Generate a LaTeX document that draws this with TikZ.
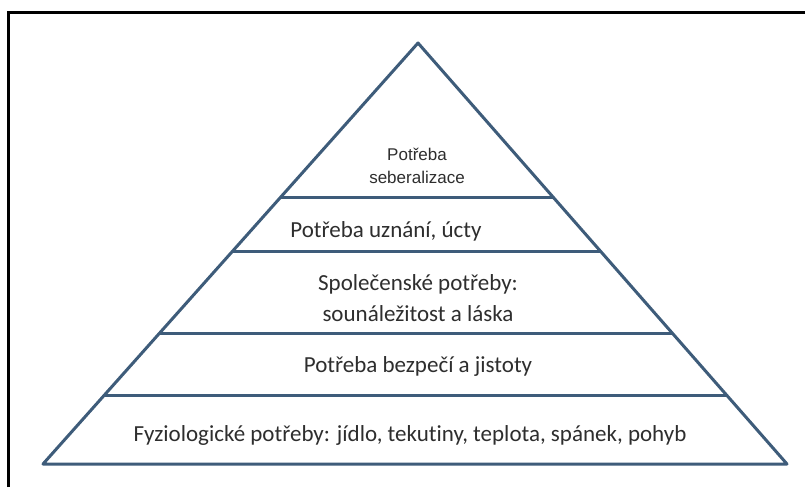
\documentclass[tikz,border=0pt]{standalone}
\usepackage{fontspec}
\setmainfont{Carlito}[Ligatures=NoCommon]
\newfontfamily\arialfont{Liberation Sans}
\usetikzlibrary{calc}
\definecolor{pyrline}{HTML}{3E5C7A}
\definecolor{pyrtext}{HTML}{2E2E2E}

\begin{document}
\begin{tikzpicture}[x=1pt,y=-1pt]
				\tikzstyle{tier}=[draw=pyrline, line width=3pt, line join=round]
				\tikzstyle{level}=[text=pyrtext, align=center, inner sep=0pt, font=\fontsize{23}{31}\selectfont]
				\useasboundingbox[fill=white] (0,0) rectangle (805,487);
				%Frame
				\draw[line width=3pt] (8,487) -- (8,13) -- (805,13);
				%Pyramid
				\coordinate (apex) at (418,43);
				\coordinate (bl) at (43,464);
				\coordinate (br) at (787,464);
				\draw[tier] (bl) -- (apex) -- (br) -- cycle;
				%Tier borders
				\foreach \t/\n in {0.366/a, 0.496/b, 0.691/c, 0.838/d}
					\draw[tier] ($(apex)!\t!(bl)$) coordinate (l\n) -- ($(apex)!\t!(br)$) coordinate (r\n);
				%Labels
				\node[level, font=\arialfont\fontsize{17}{23}\selectfont](self) at (417,166){Potřeba\\seberalizace};
				\node[level, anchor=base](esteem) at (386,237){Potřeba uznání, úcty};
				\node[level](social) at (418,298){Společenské potřeby:\\sounáležitost a láska};
				\node[level, anchor=base](safety) at (418,372){Potřeba bezpečí a jistoty};
				\node[level, anchor=base](body) at (410,441){Fyziologické potřeby: jídlo, tekutiny, teplota, spánek, pohyb};
\end{tikzpicture}
\end{document}
